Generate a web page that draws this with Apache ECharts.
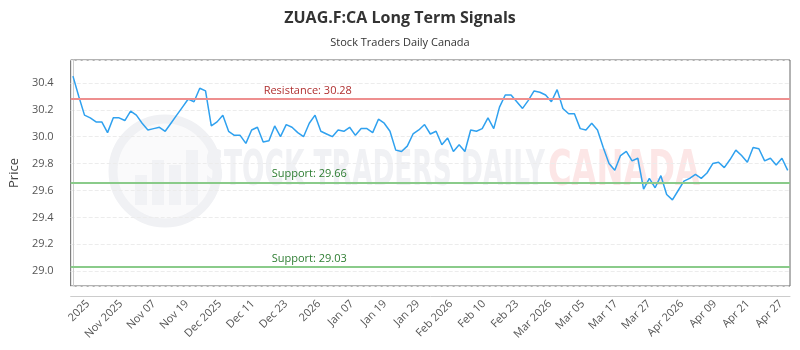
<!DOCTYPE html>
<html>
<head>
<meta charset="utf-8">
<script src="https://cdn.jsdelivr.net/npm/echarts@6/dist/echarts.min.js"></script>
<style>html,body{margin:0;padding:0;background:#fff}#c{width:800px;height:350px}</style>
</head>
<body>
<div id="c"></div>
<script>
// ---- data ----
const prices = [
  30.45, 30.30, 30.16, 30.14, 30.11, 30.11, 30.03, 30.14, 30.14, 30.12,
  30.19, 30.16, 30.10, 30.05, 30.06, 30.07, 30.04, 30.10, 30.16, 30.22,
  30.28, 30.26, 30.36, 30.34, 30.08, 30.11, 30.16, 30.04, 30.01, 30.01,
  29.95, 30.05, 30.07, 29.96, 29.97, 30.08, 30.00, 30.09, 30.07, 30.03,
  30.00, 30.10, 30.16, 30.04, 30.02, 30.00, 30.05, 30.04, 30.07, 30.01,
  30.06, 30.06, 30.03, 30.13, 30.10, 30.04, 29.90, 29.89, 29.93, 30.02,
  30.05, 30.09, 30.02, 30.04, 29.94, 29.99, 29.89, 29.94, 29.89, 30.05,
  30.04, 30.06, 30.14, 30.06, 30.22, 30.31, 30.31, 30.26, 30.21, 30.27,
  30.34, 30.33, 30.31, 30.26, 30.35, 30.21, 30.17, 30.17, 30.06, 30.05,
  30.10, 30.05, 29.92, 29.80, 29.75, 29.86, 29.89, 29.82, 29.84, 29.61,
  29.69, 29.62, 29.71, 29.57, 29.53, 29.60, 29.67, 29.69, 29.72, 29.69,
  29.73, 29.80, 29.81, 29.77, 29.83, 29.90, 29.86, 29.81, 29.92, 29.91,
  29.82, 29.84, 29.79, 29.84, 29.75
];
const tickLabels = ["2025","Nov 2025","Nov 07","Nov 19","Dec 2025","Dec 11","Dec 23","2026",
  "Jan 07","Jan 19","Jan 29","Feb 2026","Feb 10","Feb 23","Mar 2026","Mar 05","Mar 17",
  "Mar 27","Apr 2026","Apr 09","Apr 21","Apr 27"];
const resistance = 30.28;
const supports = [29.66, 29.03];
const yMin = 28.89, yMax = 30.57;
const titleText = "ZUAG.F:CA Long Term Signals";
const subText = "Stock Traders Daily Canada";

// ---- chart ----
const FONT = "'Open Sans', 'Noto Sans', sans-serif";
const chart = echarts.init(document.getElementById('c'), null, {renderer: 'canvas'});

function measure(txt, font) {
  const cv = document.createElement('canvas').getContext('2d');
  cv.font = font; return cv.measureText(txt).width;
}
const wmFont = "bold 50px 'DejaVu Sans'";
const wm1 = "STOCK TRADERS DAILY", wm2 = "CANADA";
const s1 = 340 / measure(wm1, wmFont);
const s2 = 152 / measure(wm2, wmFont);

const seriesData = prices.map((v, i) => [i, v]);

const markData = [
  {yAxis: resistance, lineStyle: {color: '#ee8f8f', width: 2, type: 'solid'},
   label: {formatter: 'Resistance: ' + resistance.toFixed(2), color: '#b03030', distance: [193, 3]}},
].concat(supports.map(s => ({
  yAxis: s, lineStyle: {color: '#8acb8a', width: 2, type: 'solid'},
  label: {formatter: 'Support: ' + s.toFixed(2), color: '#2e7d32', distance: [201, 3]}
})));

chart.setOption({
  animation: false,
  title: [
    {text: titleText, left: 'center', top: 5,
     textStyle: {fontFamily: FONT, fontSize: 16, fontWeight: 'bold', color: '#333'}},
    {text: subText, left: 'center', top: 32,
     textStyle: {fontFamily: FONT, fontSize: 11, fontWeight: 'normal', color: '#333'}}
  ],
  graphic: [
    {type: 'group', silent: true, z: -10, children: [
      {type: 'circle', shape: {cx: 165, cy: 171, r: 52},
       style: {fill: 'rgba(240,241,244,0.35)', stroke: '#f0f1f4', lineWidth: 9}},
      {type: 'rect', shape: {x: 135, y: 175, width: 12, height: 30}, style: {fill: '#f1f2f5'}},
      {type: 'rect', shape: {x: 152, y: 160, width: 12, height: 45}, style: {fill: '#f1f2f5'}},
      {type: 'rect', shape: {x: 169, y: 165, width: 12, height: 40}, style: {fill: '#f1f2f5'}},
      {type: 'rect', shape: {x: 186, y: 150, width: 12, height: 55}, style: {fill: '#f1f2f5'}},
      {type: 'text', x: 205, y: 172, scaleX: s1,
       style: {text: wm1, font: wmFont, fill: '#f0f1f4', verticalAlign: 'middle', align: 'left'}},
      {type: 'text', x: 548, y: 172, scaleX: s2,
       style: {text: wm2, font: wmFont, fill: '#fce6e6', verticalAlign: 'middle', align: 'left'}}
    ]}
  ],
  grid: [
    {left: 70, right: 10, top: 60, bottom: 64, show: true, borderColor: '#666', borderWidth: 1,
     backgroundColor: 'transparent'},
    {left: 71.5, width: 726, top: 60, bottom: 64, show: false}
  ],
  xAxis: [
    {type: 'value', gridIndex: 0, min: -0.4, max: prices.length - 1 + 0.4,
     offset: 10, axisLine: {show: true, lineStyle: {color: '#ccc'}},
     axisTick: {show: false}, axisLabel: {show: false}, splitLine: {show: false}},
    {type: 'category', gridIndex: 1, data: tickLabels, boundaryGap: true, offset: 10,
     axisLine: {show: false}, axisTick: {show: false}, splitLine: {show: false},
     axisLabel: {rotate: 45, interval: 0, margin: 6, fontFamily: FONT, fontSize: 11, color: '#555'}}
  ],
  yAxis: [
    {type: 'value', gridIndex: 0, min: yMin, max: yMax, splitNumber: 8,
     minInterval: 0.2, maxInterval: 0.2, offset: 10,
     name: 'Price', nameLocation: 'middle', nameGap: 38,
     nameTextStyle: {fontFamily: FONT, fontSize: 13, color: '#444'},
     axisLine: {show: true, lineStyle: {color: '#ccc'}}, axisTick: {show: false},
     axisLabel: {showMinLabel: false, showMaxLabel: false, margin: 7,
       fontFamily: FONT, fontSize: 11, color: '#555', formatter: v => v.toFixed(1)},
     splitLine: {show: true, lineStyle: {color: '#ececec', type: 'dashed'}}},
    {type: 'value', gridIndex: 1, show: false}
  ],
  series: [{
    type: 'line', xAxisIndex: 0, yAxisIndex: 0, data: seriesData,
    symbol: 'none', lineStyle: {color: '#2fa1ef', width: 1.5}, itemStyle: {color: '#2fa1ef'},
    markLine: {silent: true, symbol: 'none', animation: false,
      label: {position: 'insideStartTop', fontFamily: FONT, fontSize: 11},
      data: markData}
  }]
});
</script>
</body>
</html>
